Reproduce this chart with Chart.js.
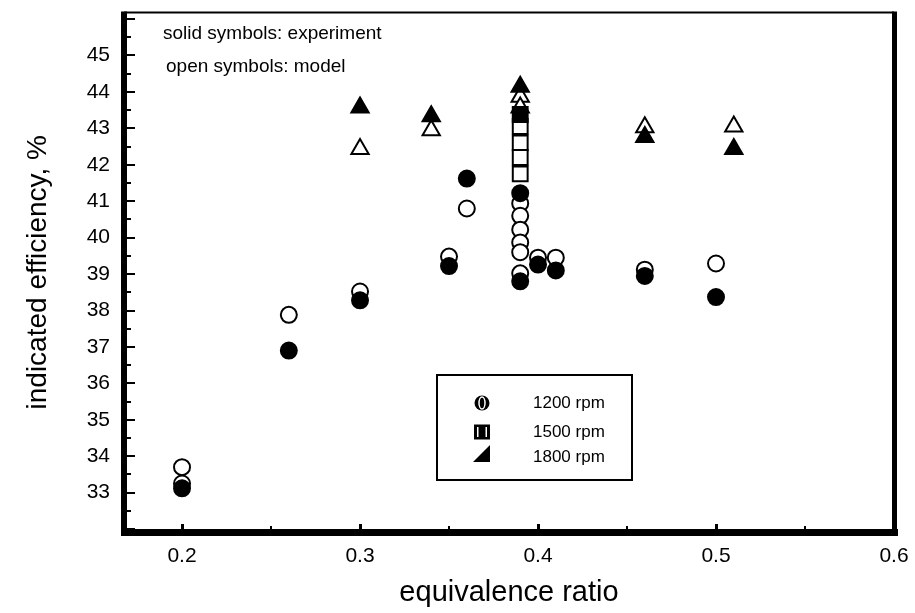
<!DOCTYPE html>
<html>
<head>
<meta charset="utf-8">
<script src="https://cdn.jsdelivr.net/npm/chart.js@4.4.0/dist/chart.umd.min.js"></script>
<style>
  html, body { margin: 0; padding: 0; background: #fff; }
  canvas { display: block; }
</style>
</head>
<body>
<canvas id="effChart" width="915" height="613"></canvas>
<script>
// values: equivalence ratio vs indicated efficiency (%)
const exp1200Phi = [0.2, 0.26, 0.3, 0.35, 0.36, 0.39, 0.39, 0.4, 0.41, 0.46, 0.5];
const exp1200Eff = [33.12, 36.9, 38.28, 39.22, 41.62, 41.22, 38.8, 39.26, 39.1, 38.95, 38.37];

const model1200Phi = [0.2, 0.2, 0.26, 0.3, 0.35, 0.36, 0.39, 0.39, 0.39, 0.39, 0.39, 0.39, 0.4, 0.41, 0.46, 0.5];
const model1200Eff = [33.7, 33.25, 37.88, 38.52, 39.48, 40.8, 40.94, 40.6, 40.22, 39.87, 39.6, 39.02, 39.45, 39.45, 39.12, 39.29];

const exp1500Phi = [0.39];
const exp1500Eff = [43.38];

const model1500Phi = [0.39, 0.39, 0.39, 0.39];
const model1500Eff = [43.05, 42.6, 42.2, 41.75];

const exp1800Phi = [0.3, 0.34, 0.39, 0.46, 0.51];
const exp1800Eff = [43.57, 43.33, 44.14, 42.76, 42.43];

const model1800Phi = [0.3, 0.34, 0.39, 0.39, 0.46, 0.51];
const model1800Eff = [42.43, 42.95, 43.87, 43.57, 43.03, 43.05];

const xTicks = [0.2, 0.3, 0.4, 0.5, 0.6];
const yTicks = [33, 34, 35, 36, 37, 38, 39, 40, 41, 42, 43, 44, 45];

const legendLabels = ['1200 rpm', '1500 rpm', '1800 rpm'];

function pts(xs, ys) {
  return xs.map((v, i) => ({ x: v, y: ys[i] }));
}

function series(label, xs, ys, style, filled, radius) {
  return {
    label: label,
    data: pts(xs, ys),
    pointStyle: style,
    pointRadius: radius,
    pointBorderWidth: 2,
    borderColor: '#000',
    pointBorderColor: '#000',
    pointBackgroundColor: filled ? '#000' : '#fff',
    showLine: false
  };
}

const FONT = '"Liberation Sans", Arial, sans-serif';

// frame, inward ticks, notes and boxed legend
const decorPlugin = {
  id: 'decor',
  afterDatasetsDraw(chart) {
    const { ctx, chartArea: a, scales } = chart;
    const x = scales.x, y = scales.y;
    ctx.save();
    ctx.fillStyle = '#000';

    // y ticks, every half unit
    for (let v = 32; v <= 46; v += 0.5) {
      const py = Math.round(y.getPixelForValue(v));
      const major = Number.isInteger(v);
      ctx.fillRect(a.left, py - 1, major ? 11 : 7, 2);
    }
    // x ticks, every 0.05
    for (let k = 4; k <= 12; k++) {
      const v = k * 0.05;
      const px = Math.round(x.getPixelForValue(v));
      const major = k % 2 === 0;
      ctx.fillRect(px - 1, a.bottom - (major ? 8 : 6), major ? 3 : 2, major ? 8 : 6);
    }

    // frame
    ctx.fillRect(a.left - 3, a.top - 1, 6, a.bottom - a.top + 5);
    ctx.fillRect(a.left - 3, a.bottom - 3, a.right - a.left + 7, 7);
    ctx.fillRect(a.right - 2, a.top - 1, 5, a.bottom - a.top + 4);
    ctx.fillRect(a.left, a.top - 1, a.right - a.left, 2);

    // notes
    ctx.font = '19px ' + FONT;
    ctx.textBaseline = 'middle';
    ctx.textAlign = 'left';
    ctx.fillText('solid symbols: experiment', 163, 34);
    ctx.fillText('open symbols: model', 166, 67);

    // legend box
    ctx.lineWidth = 2;
    ctx.strokeStyle = '#000';
    ctx.strokeRect(437, 375, 195, 105);
    const rows = [403, 432, 457];
    ctx.font = '17px ' + FONT;
    legendLabels.forEach((t, i) => ctx.fillText(t, 533, rows[i]));

    // circle
    ctx.beginPath();
    ctx.arc(482, rows[0], 7.5, 0, Math.PI * 2);
    ctx.fill();
    ctx.strokeStyle = '#fff';
    ctx.lineWidth = 1.5;
    ctx.beginPath();
    ctx.ellipse(482, rows[0], 3, 6, 0, 0, Math.PI * 2);
    ctx.stroke();
    // square
    ctx.fillRect(474, rows[1] - 7.5, 16, 15);
    ctx.fillStyle = '#fff';
    ctx.fillRect(477, rows[1] - 5, 1.5, 10);
    ctx.fillRect(485.5, rows[1] - 5, 1.5, 10);
    ctx.fillStyle = '#000';
    // triangle
    ctx.beginPath();
    ctx.moveTo(473, rows[2] + 5);
    ctx.lineTo(490, rows[2] + 5);
    ctx.lineTo(490, rows[2] - 12);
    ctx.closePath();
    ctx.fill();

    ctx.restore();
  }
};

const ctx = document.getElementById('effChart').getContext('2d');

new Chart(ctx, {
  type: 'scatter',
  data: {
    datasets: [
      series('1200 rpm experiment', exp1200Phi, exp1200Eff, 'circle', true, 8),
      series('1500 rpm experiment', exp1500Phi, exp1500Eff, 'rect', true, 10.5),
      series('1800 rpm experiment', exp1800Phi, exp1800Eff, 'triangle', true, 10),
      series('1200 rpm model', model1200Phi, model1200Eff, 'circle', false, 8),
      series('1500 rpm model', model1500Phi, model1500Eff, 'rect', false, 10.5),
      series('1800 rpm model', model1800Phi, model1800Eff, 'triangle', false, 10)
    ]
  },
  options: {
    responsive: false,
    animation: false,
    devicePixelRatio: 1,
    layout: { padding: { top: 7, right: 21, left: 0, bottom: 0 } },
    plugins: {
      legend: { display: false },
      tooltip: { enabled: false }
    },
    scales: {
      x: {
        type: 'linear',
        min: 0.1674,
        max: 0.6,
        grid: { display: false, drawTicks: false },
        border: { display: false },
        afterBuildTicks: s => { s.ticks = xTicks.map(v => ({ value: v })); },
        afterFit: s => { s.height = 81; s.paddingLeft = 0; s.paddingRight = 0; },
        ticks: {
          padding: 12,
          color: '#000',
          font: { family: FONT, size: 21 },
          callback: v => v.toFixed(1)
        },
        title: {
          display: true,
          text: 'equivalence ratio',
          color: '#000',
          font: { family: FONT, size: 29 },
          padding: { top: 0, bottom: 3 }
        }
      },
      y: {
        type: 'linear',
        min: 31.92,
        max: 46.18,
        grid: { display: false, drawTicks: false },
        border: { display: false },
        afterBuildTicks: s => { s.ticks = yTicks.map(v => ({ value: v })); },
        afterFit: s => { s.width = 124; s.paddingTop = 0; s.paddingBottom = 0; },
        ticks: {
          padding: 14,
          color: '#000',
          font: { family: FONT, size: 21 },
          callback: v => String(v)
        },
        title: {
          display: true,
          text: 'indicated efficiency, %',
          color: '#000',
          font: { family: FONT, size: 28 },
          padding: { top: 21, bottom: 0 }
        }
      }
    }
  },
  plugins: [decorPlugin]
});
</script>
</body>
</html>
